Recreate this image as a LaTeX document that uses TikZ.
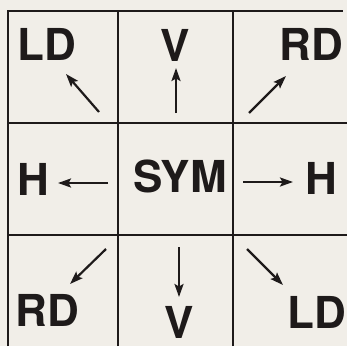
\documentclass[tikz,border=0pt]{standalone}
\usepackage{fontspec}
\setmainfont{TeX Gyre Heros}
\usetikzlibrary{arrows.meta}
\definecolor{paper}{HTML}{F1EEE8}
\definecolor{ink}{HTML}{1E1A1A}
\begin{document}
\begin{tikzpicture}[x=1pt,y=1pt,
  gridline/.style={draw=ink,line width=1.8pt},
  lbl/.style={text=ink,inner sep=0pt,font=\fontsize{44}{44}\selectfont\bfseries},
  dirarrow/.style={draw=ink,line width=2.2pt,-{Stealth[length=13pt,width=9pt,inset=2.5pt]}}]
\fill[paper] (0,0) rectangle (347,346);
\useasboundingbox (0,0) rectangle (347,346);
% grid
\draw[gridline] (8,0) -- (8,335) -- (343,335);
\draw[gridline] (118,0) -- (118,335);
\draw[gridline] (233,0) -- (233,335);
\draw[gridline] (8,223) -- (347,223);
\draw[gridline] (8,111) -- (347,111);
% labels
\node[lbl] (ldtl) at (47,302) {LD};
\node[lbl] (vt) at (175.5,301) {V};
\node[lbl] (rdtr) at (311,301.5) {RD};
\node[lbl] (hl) at (33.5,167) {H};
\node[lbl] (sym) at (180,169.5) {SYM};
\node[lbl] (hr) at (321,168) {H};
\node[lbl] (rdbl) at (47,35.5) {RD};
\node[lbl] (vb) at (179,24) {V};
\node[lbl] (ldbr) at (316.5,34) {LD};
% arrow ends
\coordinate (a1s) at (99,234);  \coordinate (a1e) at (66,272);
\coordinate (a2s) at (176,233); \coordinate (a2e) at (176,278);
\coordinate (a3s) at (249,233); \coordinate (a3e) at (286,270);
\coordinate (a4s) at (108,163); \coordinate (a4e) at (58,163);
\coordinate (a5s) at (243,164); \coordinate (a5e) at (293,164);
\coordinate (a6s) at (106,97);  \coordinate (a6e) at (70,62);
\coordinate (a7s) at (179,99);  \coordinate (a7e) at (179,49);
\coordinate (a8s) at (247,97);  \coordinate (a8e) at (283,61);
\draw[dirarrow] (a1s) -- (a1e);
\draw[dirarrow] (a2s) -- (a2e);
\draw[dirarrow] (a3s) -- (a3e);
\draw[dirarrow] (a4s) -- (a4e);
\draw[dirarrow] (a5s) -- (a5e);
\draw[dirarrow] (a6s) -- (a6e);
\draw[dirarrow] (a7s) -- (a7e);
\draw[dirarrow] (a8s) -- (a8e);
\end{tikzpicture}
\end{document}
